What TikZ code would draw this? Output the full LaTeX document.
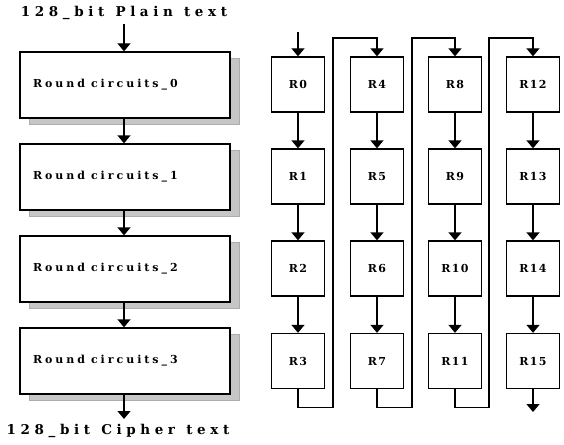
\documentclass[tikz,border=0pt]{standalone}
\usepackage{fontspec}
\setmainfont{DejaVu Serif}
\newfontfamily\wideserif[LetterSpace=34]{DejaVu Serif}
\newfontfamily\roundserif[LetterSpace=27]{DejaVu Serif}
\newfontfamily\regserif[LetterSpace=12]{DejaVu Serif}
\usetikzlibrary{arrows.meta,shadows}

\begin{document}
\begin{tikzpicture}[x=1pt,y=-1pt,
  line width=1.3pt,
  tip/.style={-{Triangle[width=13pt,length=8pt]}},
  roundbox/.style={draw, fill=white, minimum width=210pt, minimum height=66pt,
    inner sep=0pt, text width=184pt, align=left,
    font=\roundserif\bfseries\fontsize{11}{13}\selectfont,
    drop shadow={shadow xshift=9pt, shadow yshift=-6pt, fill=gray!45,
      draw=gray!65, line width=0.6pt, opacity=1}},
  regbox/.style={draw, fill=white, minimum width=53pt, minimum height=55pt,
    inner sep=0pt, font=\regserif\bfseries\fontsize{11}{13}\selectfont},
  iotext/.style={inner sep=0pt, font=\wideserif\bfseries\fontsize{13.5}{15}\selectfont}
]
\useasboundingbox (0,0) rectangle (564,444);

% ---- pipelined chain of round circuits ----
\node[iotext] (plain) at (124,13) {128\_bit\hspace*{2pt} Plain\hspace*{2pt} text};
\node[roundbox] (rc0) at (125,85)  {\raisebox{2pt}{Round\hspace*{6pt}circuits\_0}};
\node[roundbox] (rc1) at (125,177) {\raisebox{2pt}{Round\hspace*{6pt}circuits\_1}};
\node[roundbox] (rc2) at (125,269) {\raisebox{2pt}{Round\hspace*{6pt}circuits\_2}};
\node[roundbox] (rc3) at (125,361) {\raisebox{2pt}{Round\hspace*{6pt}circuits\_3}};
\node[iotext] (cipher) at (118,431) {128\_bit\hspace*{2pt} Cipher\hspace*{2pt} text};
\coordinate (pin) at (124,24);
\coordinate (pout) at (124,419);

\draw[tip] (pin) -- (pin |- rc0.north);
\draw[tip] (rc0.south -| pin) -- (pin |- rc1.north);
\draw[tip] (rc1.south -| pin) -- (pin |- rc2.north);
\draw[tip] (rc2.south -| pin) -- (pin |- rc3.north);
\draw[tip] (rc3.south -| pin) -- (pout);

% ---- 4x4 grid of round registers ----
\foreach \c/\x in {0/298,1/377,2/455,3/533}{
  \foreach \r/\y in {0/84.5,1/176.5,2/268.5,3/361}{
    \pgfmathtruncatemacro{\k}{4*\c+\r}
    \node[regbox] (r\k) at (\x,\y) {R\k\hspace{20pt}};
  }
}

\coordinate (rin) at (298,32);
\draw[tip] (rin) -- (r0.north);
\foreach \c in {0,1,2,3}{
  \pgfmathtruncatemacro{\a}{4*\c}
  \pgfmathtruncatemacro{\b}{4*\c+1}
  \pgfmathtruncatemacro{\d}{4*\c+2}
  \pgfmathtruncatemacro{\e}{4*\c+3}
  \draw[tip] (r\a.south) -- (r\b.north);
  \draw[tip] (r\b.south) -- (r\d.north);
  \draw[tip] (r\d.south) -- (r\e.north);
}

% wrap-around links between columns
\foreach \s/\t/\xm in {3/4/333,7/8/412,11/12/489}{
  \draw[tip] (r\s.south) -- ++(0,18) -| (\xm,38) -| (r\t.north);
}
\coordinate (rout) at (533,412);
\draw[tip] (r15.south) -- (rout);
\end{tikzpicture}
\end{document}
